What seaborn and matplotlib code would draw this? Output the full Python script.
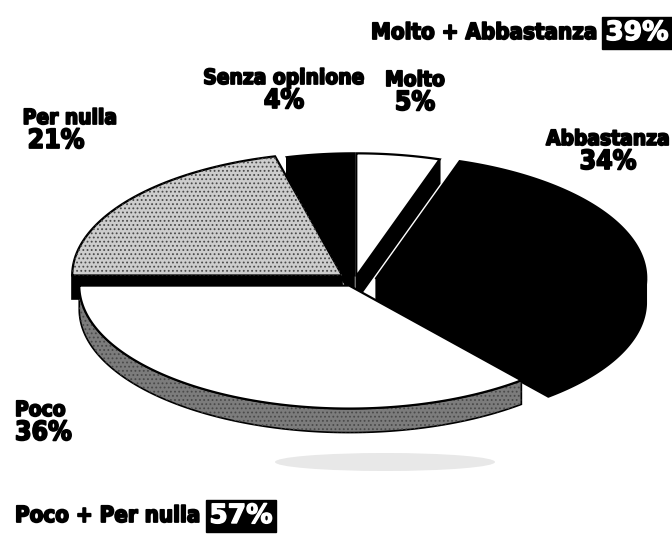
import numpy as np
import matplotlib
matplotlib.use("Agg")
import matplotlib.pyplot as plt
import matplotlib.patheffects as pe
import seaborn as sns
from matplotlib.patches import Polygon, Ellipse

# ---- data ----
categories = ["Molto", "Abbastanza", "Poco", "Per nulla", "Senza opinione"]
values = [5, 34, 36, 21, 4]
pct_labels = ["5%", "34%", "36%", "21%", "4%"]
group_labels = ["Molto + Abbastanza", "Poco + Per nulla"]
group_pcts = ["39%", "57%"]

# ---- style ----
sns.set_theme(style="white")
FONT = ['Liberation Sans Narrow', 'DejaVu Sans']
plt.rcParams['font.family'] = FONT
plt.rcParams['hatch.linewidth'] = 0.8

W, H = 672, 539
fig = plt.figure(figsize=(W / 100, H / 100), dpi=100)
ax = fig.add_axes([0, 0, 1, 1])
ax.set_xlim(0, W)
ax.set_ylim(H, 0)
ax.axis('off')

cx, cy = 355, 280
rx, ry = 270, 123
depth = 24
explode = [0.03, 0.08, 0.05, 0.06, 0.03]
top_colors = ["white", "black", "white", "#cdcdcd", "black"]
side_colors = ["black", "black", "#7c7c7c", "black", "black"]
top_hatch = [None, None, None, "....", None]
side_hatch = [None, None, "....", None, None]

# faint scan shadow below the pie
ax.add_patch(Ellipse((385, 462), 220, 18, facecolor="#e8e8e8", edgecolor="none", zorder=0))

bounds = 90 - 360 * np.cumsum([0] + values) / sum(values)   # clockwise from top

wedges = []
for i, v in enumerate(values):
    hi, lo = bounds[i], bounds[i + 1]           # ccw range [lo, hi]
    mid = np.radians((hi + lo) / 2)
    ox = cx + explode[i] * rx * np.cos(mid)
    oy = cy - explode[i] * ry * np.sin(mid)
    wedges.append((i, lo, hi, ox, oy, -np.sin(mid)))

wedges.sort(key=lambda w: w[5])


def poly(pts, fc, hatch, z, lw):
    ax.add_patch(Polygon(pts, closed=True, facecolor=fc, edgecolor="black", lw=lw, zorder=z))
    if hatch:
        ax.add_patch(Polygon(pts, closed=True, facecolor="none", edgecolor="#4a4a4a",
                             lw=0, hatch=hatch, zorder=z + 0.1))


for i, lo, hi, ox, oy, _ in wedges:
    t = np.radians(np.linspace(hi, lo, 200))
    ex = ox + rx * np.cos(t)
    ey = oy - ry * np.sin(t)
    sc = side_colors[i]
    # radial faces that face the viewer
    for ang, vis in ((hi, np.cos(np.radians(hi)) < -1e-9), (lo, np.cos(np.radians(lo)) > 1e-9)):
        if vis:
            px = ox + rx * np.cos(np.radians(ang))
            py = oy - ry * np.sin(np.radians(ang))
            poly([(ox, oy), (px, py), (px, py + depth), (ox, oy + depth)], sc, side_hatch[i], 2, 1.2)
    # outer wall (front half)
    m = np.sin(t) <= 0
    if m.sum() > 1:
        fx, fy = ex[m], ey[m]
        pts = list(zip(fx, fy)) + list(zip(fx[::-1], fy[::-1] + depth))
        poly(pts, sc, side_hatch[i], 2, 1.2)
    # top
    poly([(ox, oy)] + list(zip(ex, ey)), top_colors[i], top_hatch[i], 3, 1.6)

# ---- labels ----
label_pos = {
    "Molto": (415, 80),
    "Abbastanza": (608, 139),
    "Poco": (15, 410),
    "Per nulla": (70, 118),
    "Senza opinione": (284, 78),
}
pct_dx = {"Per nulla": -14}
heavy = [pe.withStroke(linewidth=1.3, foreground='black')]
heavy_w = [pe.withStroke(linewidth=1.0, foreground='white')]
kw = dict(fontweight='bold', color='black', fontfamily=FONT, fontstretch='condensed',
          path_effects=heavy)
for name, pct in zip(categories, pct_labels):
    x, y = label_pos[name]
    ha = 'left' if name == "Poco" else 'center'
    ax.text(x, y, name, ha=ha, va='center', fontsize=15, **kw)
    ax.text(x + pct_dx.get(name, 0), y + 23, pct, ha=ha, va='center', fontsize=19, **kw)

ax.text(598, 33, group_labels[0], ha='right', va='center', fontsize=16, **kw)
ax.text(637, 33, group_pcts[0], ha='center', va='center', fontsize=19, color='white',
        fontweight='bold', fontfamily=FONT, path_effects=heavy_w,
        bbox=dict(facecolor='black', edgecolor='black', boxstyle='square,pad=0.12'))
ax.text(15, 516, group_labels[1], ha='left', va='center', fontsize=16, **kw)
ax.text(241, 516, group_pcts[1], ha='center', va='center', fontsize=19, color='white',
        fontweight='bold', fontfamily=FONT, path_effects=heavy_w,
        bbox=dict(facecolor='black', edgecolor='black', boxstyle='square,pad=0.12'))

fig.savefig("out.png", dpi=100)
